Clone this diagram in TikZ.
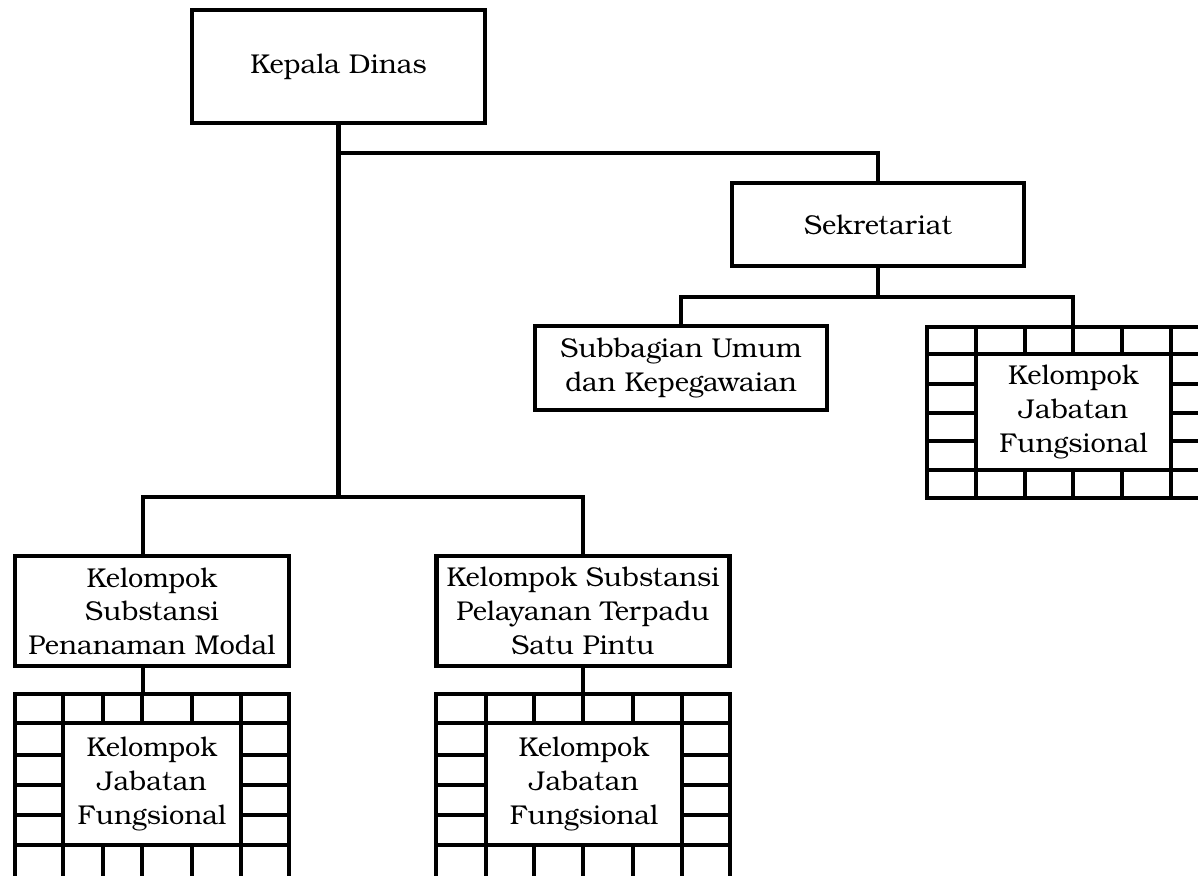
\documentclass[tikz,border=0pt]{standalone}
\usepackage{fontspec}
\setmainfont{TeX Gyre Bonum}
\usetikzlibrary{positioning}

\tikzset{
  unit/.style={draw, line width=2.4pt, fill=white, align=center, inner sep=0pt,
    font=\fontsize{13.6}{16.8}\selectfont},
  garis/.style={line width=2.4pt},
}

% kotak bata: xkiri, xkanan, yatas, ybawah, kolom, baris
\newcommand{\brickgrid}[6]{%
  \draw[garis] (#1,#3) rectangle (#2,#4);
  \foreach \r in {#6} \draw[garis] (#1,\r) -- (#2,\r);
  \foreach \c in {#5} \draw[garis] (\c,#3) -- (\c,#4);
}

\begin{document}
\begin{tikzpicture}[x=0.5pt, y=-0.5pt]
\clip (0,0) rectangle (1198,875);
\useasboundingbox (0,0) rectangle (1198,875);

% jabatan struktural
\node[unit, minimum width=146.5pt, minimum height=56.5pt] (kadis) at (338.5,66.5) {Kepala Dinas};
\node[unit, minimum width=146pt, minimum height=41.5pt] (sekre) at (878,224.5) {Sekretariat};
\node[unit, minimum width=146pt, minimum height=42pt] (subbag) at (681,368) {Subbagian Umum\\dan Kepegawaian};
\node[unit, minimum width=137pt, minimum height=55pt] (kspm) at (152,611) {Kelompok\\Substansi\\Penanaman Modal};
\node[unit, minimum width=146.5pt, minimum height=55pt] (kspt) at (583,611) {Kelompok Substansi\\Pelayanan Terpadu\\Satu Pintu};

% kelompok jabatan fungsional
\brickgrid{15}{289}{694}{884}{63,103,142,192,241}{723,755,785,815,845}
\brickgrid{436}{730}{694}{884}{486,534,583,633,682}{723,755,785,815,845}
\brickgrid{927}{1220}{327}{498}{976,1025,1073,1122,1171}{354,384,413,441,470}
\node[unit, minimum width=89pt, minimum height=61pt] (jfa) at (152,784) {Kelompok\\Jabatan\\Fungsional};
\node[unit, minimum width=98pt, minimum height=61pt] (jfb) at (584,784) {Kelompok\\Jabatan\\Fungsional};
\node[unit, minimum width=97.5pt, minimum height=58pt] (jfc) at (1073.5,412) {Kelompok\\Jabatan\\Fungsional};

% garis komando
\coordinate (bus1) at (340,153);
\coordinate (bus2) at (878,297);
\coordinate (bus3) at (143,497);
\coordinate (jfatop) at (143,694);
\coordinate (jfbtop) at (583,694);
\coordinate (jfctop) at (1073,327);
\draw[garis] (kadis.south) -- (kadis.south |- bus3);
\draw[garis] (kadis.south |- bus1) -| (sekre.north);
\draw[garis] (sekre.south) -- (bus2);
\draw[garis] (subbag.north) |- (bus2) -| (jfctop);
\draw[garis] (bus3 |- kspm.north) |- (bus3) -| (kspt.north);
\draw[garis] (bus3 |- kspm.south) -- (jfatop);
\draw[garis] (kspt.south) -- (jfbtop);
\end{tikzpicture}
\end{document}
